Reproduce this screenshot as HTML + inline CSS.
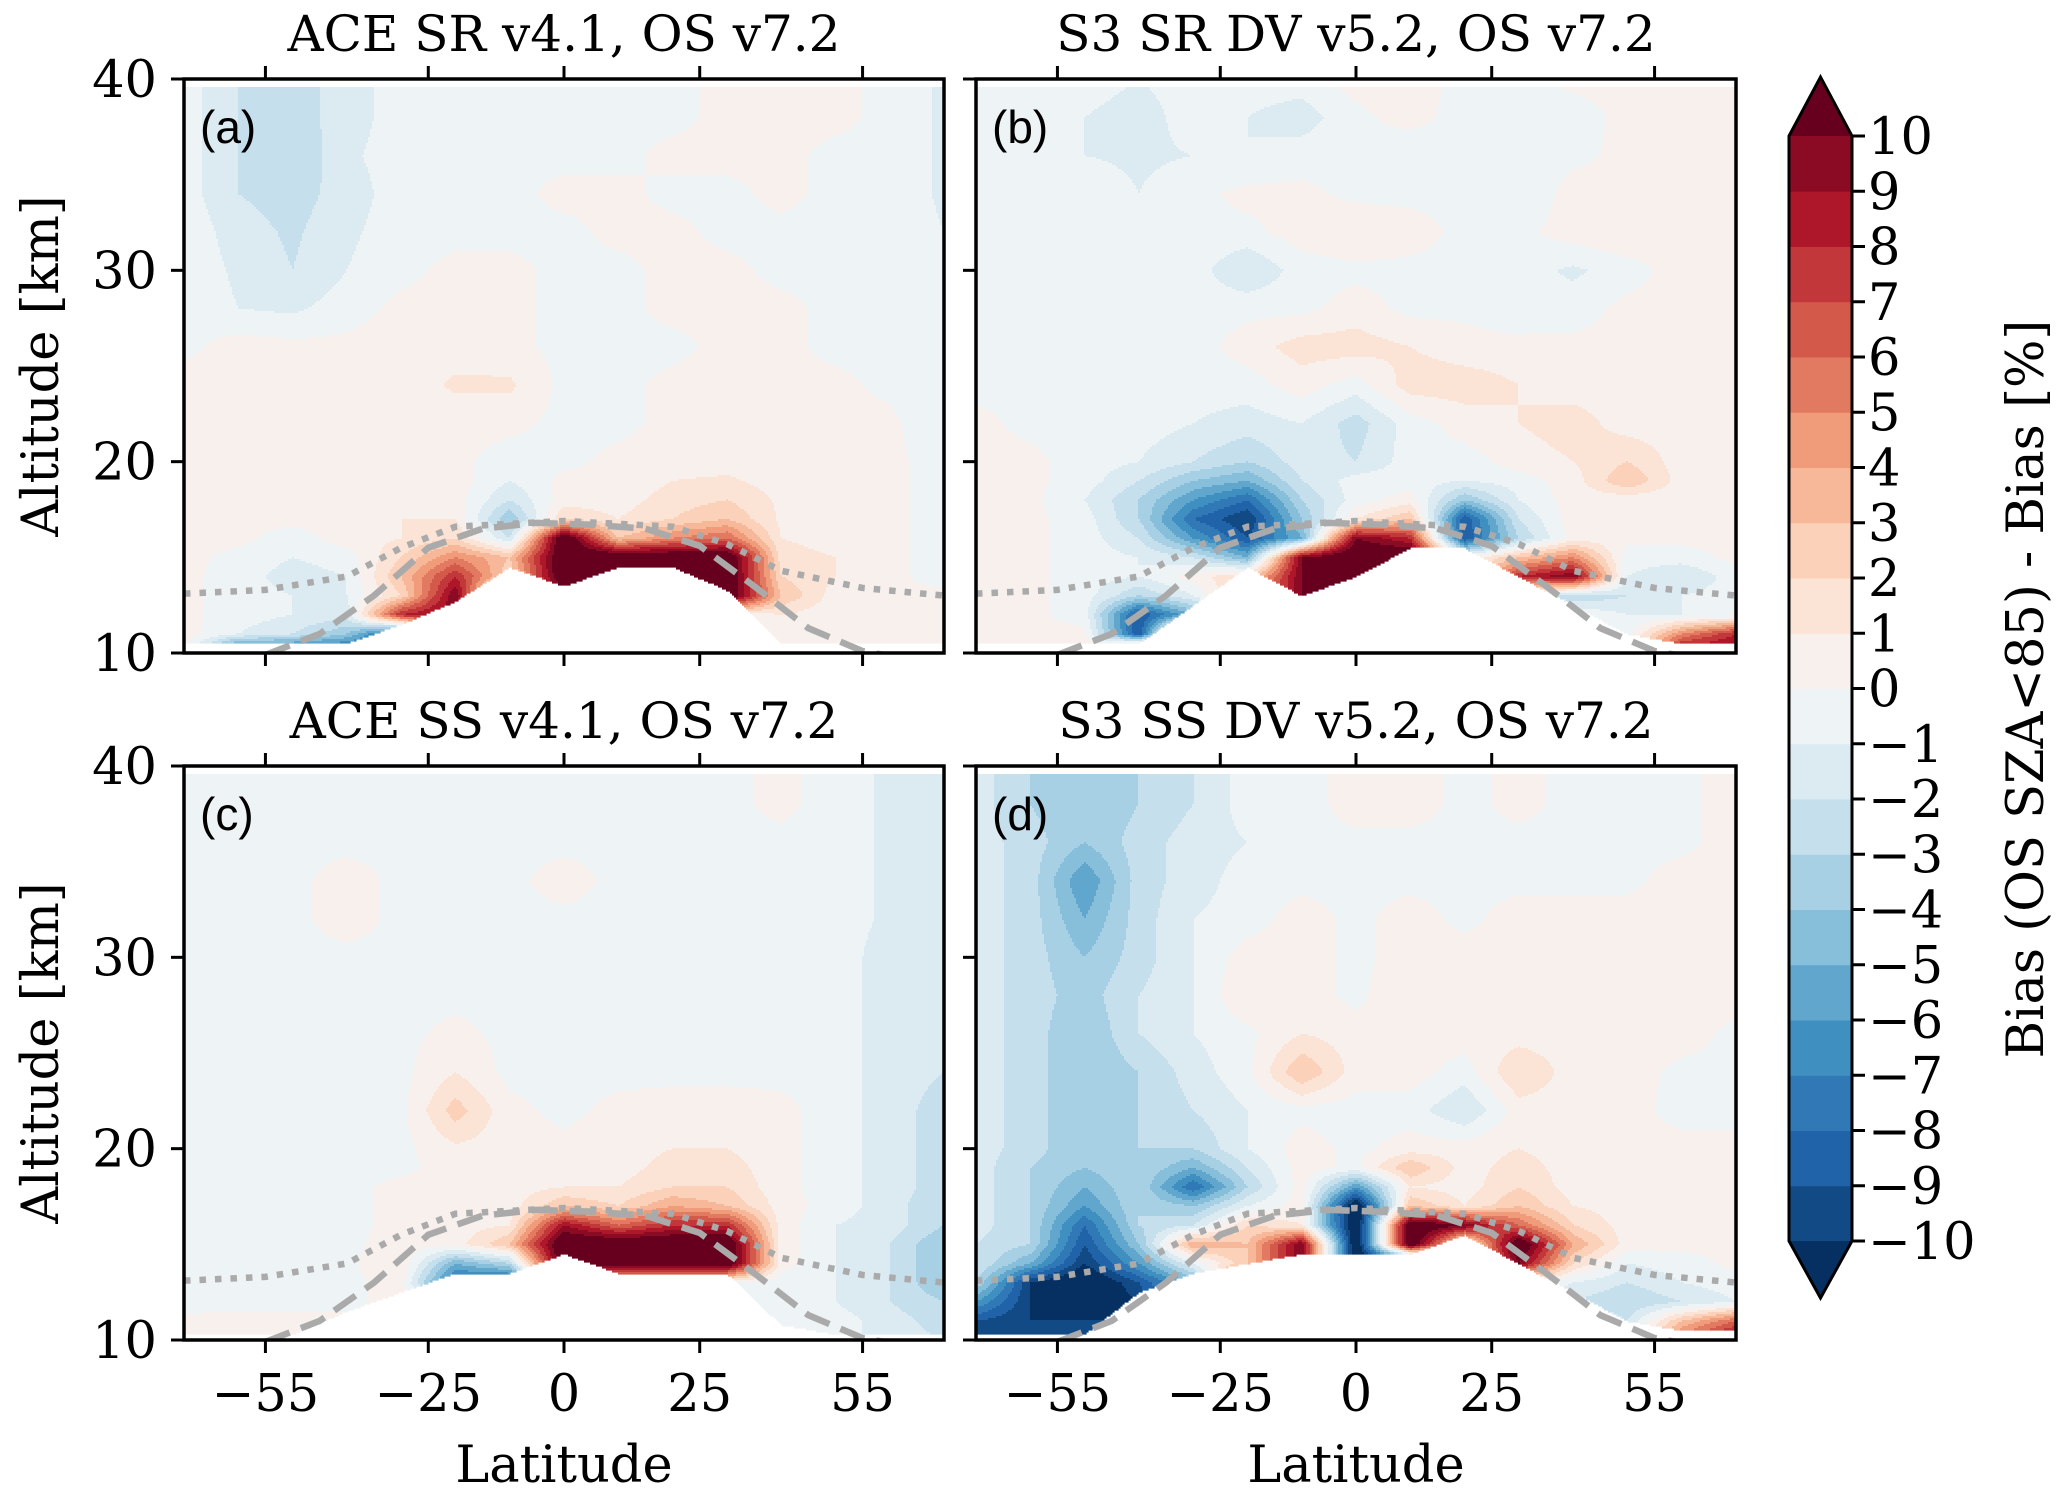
<!DOCTYPE html>
<html><head><meta charset="utf-8">
<style>
html,body{margin:0;padding:0;background:#fff}
svg text{font-family:"DejaVu Serif","Liberation Serif",serif;fill:#000}
</style></head>
<body>
<svg id="fig" xmlns="http://www.w3.org/2000/svg" width="2067" height="1494" viewBox="0 0 2067 1494">
<rect width="2067" height="1494" fill="#fff"/>
<g id="layer"></g>
</svg>
<script>
// ---- data ----
const lats = [-70,-60,-50,-40,-30,-20,-10,0,10,20,30,40,50,60,70];
const alts = [10,11,12,13,14,15,16,17,18,19,20,22,24,26,28,30,32,34,36,38,40];
const xTicks = [-55,-25,0,25,55];
const yTicks = [10,20,30,40];
const cbarLevels = [-10,-9,-8,-7,-6,-5,-4,-3,-2,-1,0,1,2,3,4,5,6,7,8,9,10];
const titles = ["ACE SR v4.1, OS v7.2","S3 SR DV v5.2, OS v7.2","ACE SS v4.1, OS v7.2","S3 SS DV v5.2, OS v7.2"];
const panelTags = ["(a)","(b)","(c)","(d)"];
const floorA = [10.5,10.5,10.5,10.5,11.5,12.7,14.5,13.5,14.5,14.5,13.3,10.5,10.5,10.5,10.5];
const floorB = [10.5,10.5,10.5,10.5,12.5,14.5,13,14,15.5,15.5,14,12.5,11,10.5,10.5];
const floorC = [10.3,10.3,10.3,11.5,12.5,13.5,13.5,14.5,13.5,13.5,13.5,10.8,10.3,10.3,10.3];
const floorD = [10.3,10.3,10.3,12.5,13.5,14,14.5,14.5,14.5,15.5,14,12.5,11,10.5,10.5];
const dotLats = [-70,-55,-40,-30,-20,0,20,30,40,55,70];
const dotAlts = [13.1,13.3,14,15.5,16.6,16.9,16.6,15.7,14.3,13.4,13.0];
const dashLats = [-55,-45,-35,-25,-15,-5,5,15,25,35,45,55,65,70];
const dashAlts = [9.9,11,13,15.5,16.5,16.8,16.7,16.5,15.6,13.5,11.3,10.1,9.6,9.5];
const biasA = [
[0.5,-9,-9,-9,-9,-9,-9,0,0,0,0,0,0.3,0.3,0.5],
[0.5,-1,-2,-4,-9,5,-9,0,0,0,0,0,0.3,0.3,0.5],
[0.3,-0.5,-1,-1.5,8,10,-9,0,0,0,0,1,0.3,0.3,0.5],
[0.3,-0.5,-1,-1,2,10,-5,10,12,12,12,3,0.5,0.3,0.3],
[0.3,-0.5,-1.5,-1,3,8,2,12,12,12,12,2,1,0.3,-0.5],
[0.3,-0.3,-1,-0.5,2,5,3,12,12,12,12,1.5,1,0.3,-0.5],
[0.3,0.3,-0.5,0.5,1,2,-2,12,3,5,6,1,0.5,0.3,-0.5],
[0.3,0.3,0.3,0.5,1,1,-4,2,1,2,3,0.8,0.5,0.3,-0.5],
[0.3,0.3,0.3,0.5,0.5,0.5,-2,0.5,0.5,1.5,2,0.8,0.5,0.3,-0.5],
[0.3,0.3,0.3,0.3,0.5,0.5,-1,0.3,0.3,1,1.2,0.5,0.5,0.3,-0.5],
[0.3,0.3,0.3,0.3,0.3,0.3,-0.5,-0.3,0.3,0.5,0.5,0.3,0.3,0.3,-0.5],
[0.5,0.5,0.5,0.5,0.3,0.3,0.3,-0.3,-0.3,0.3,0.3,0.3,0.5,0.3,-1],
[0.5,0.5,0.3,0.3,0.3,1.2,1.2,-0.3,-0.3,0.3,0.5,0.3,0.3,-0.3,-1],
[-0.3,0.5,0.3,0.3,0.5,0.5,0.3,-0.3,-0.3,-0.3,0.3,0.3,-0.3,-0.3,-1],
[-0.3,-1,-1.2,-0.5,0.3,0.3,0.3,-0.3,-0.3,0.3,0.3,0.3,-0.3,-0.3,-1],
[-0.3,-1.2,-2,-1,-0.3,0.3,0.3,-0.3,-0.3,0.3,0.3,-0.3,-0.3,-0.3,-1],
[-0.3,-1.5,-2.2,-1.2,-0.5,-0.3,-0.3,-0.3,0.3,0.3,-0.3,-0.3,-0.3,-0.3,-1],
[-0.5,-2,-2.5,-1.5,-0.5,-0.3,-0.3,0.3,0.3,-0.3,-0.3,0.3,-0.3,-0.3,-1.2],
[-0.5,-2,-3,-1.2,-0.5,-0.3,-0.3,-0.3,-0.3,0.3,0.3,0.3,-0.3,-0.3,-1.2],
[-0.5,-2,-2.5,-1.5,-0.5,-0.3,-0.5,-0.3,-0.3,-0.3,0.3,0.3,0.3,-0.3,-1.2],
[-0.5,-2,-2.5,-1.5,-0.5,-0.3,-0.5,-0.3,-0.3,-0.3,0.3,0.3,0.3,-0.3,-1.2]];
const biasB = [
[0.3,0.3,0.3,10,10,0,0,0,0,0,0,0,-0.5,10,10],
[0.3,0.3,0.3,-9,10,0,0,0,0,0,0,0,-0.5,5,8],
[0.3,0.3,-0.5,-9,-5,0,0,0,0,0,0,0,-1,-1,-0.5],
[0.3,0.3,-0.5,-3,-1,3,10,10,0,0,0,-3,-2,-1,-0.5],
[0.3,0.3,-0.5,-1,0.5,2,10,12,0,0,8,10,-1,-2,-0.5],
[0.3,0.3,-0.5,-1,-2,-5,10,12,12,0,3,5,-0.5,-0.5,0.3],
[0.3,0.3,-0.5,-2,-6,-9,-5,10,8,-9,-3,0.5,0.3,0.3,0.3],
[0.3,0.3,-0.5,-3,-8,-10,-4,1,3,-9,-2,0.5,0.3,0.3,0.3],
[0.3,0.3,-1,-3,-6,-8,-3,-0.5,0.5,-4,-1,0.5,0.3,0.3,0.3],
[0.3,0.3,-0.5,-2,-4,-5,-2,-0.5,-0.5,-1,-0.5,0.5,3,0.5,0.3],
[0.3,0.3,-0.5,-1,-2,-3,-1.5,-2,-0.5,-0.5,0.5,1,2,0.5,0.3],
[0.3,-0.3,-0.5,-0.5,-1,-1.5,-1,-2.5,-0.5,0.5,1,1.5,0.5,0.5,0.3],
[-0.3,-0.3,-0.3,-0.5,-0.5,-0.5,0.5,-0.5,1.5,1.5,1,0.5,0.5,0.5,0.3],
[-0.3,-0.3,-0.3,-1,-0.5,0.5,1.5,1.5,1,0.5,0.5,0.3,0.3,0.5,0.5],
[-0.3,-0.3,-0.3,-0.3,-0.5,-0.3,-0.3,0.5,-0.3,-0.3,-1,-0.5,0.3,0.5,0.5],
[-0.3,-0.3,-0.3,-0.3,-0.5,-2,-0.5,-0.3,-0.3,-0.3,-0.5,-1.2,-0.5,0.5,0.5],
[-0.3,-0.3,-0.3,-0.3,-0.3,-0.3,0.5,1,0.5,-0.3,-0.3,0.5,1,0.5,0.5],
[-0.3,-0.3,-0.3,-1,-0.3,0.3,0.3,-0.3,-0.3,-0.3,-1,0.5,0.3,0.5,0.5],
[-0.3,-0.3,-1,-1.2,-1,-1,-0.5,-0.3,-1,-0.5,-1,-0.3,0.3,0.3,0.5],
[-0.3,-0.3,-1,-1.5,-0.5,-1,-1.5,-0.3,0.5,-0.5,-1,-0.5,0.3,0.3,0.5],
[-0.3,-0.3,-0.5,-1,-0.5,-0.5,-0.5,0.5,0.5,-0.3,-0.3,0.3,0.3,0.3,0.3]];
const biasC = [
[0.3,0.5,0.5,0.3,0,0,0,0,0,0,0,-0.5,-0.5,-1.5,-2],
[0.3,0.3,0.3,0.3,0,0,0,0,0,0,0,-0.5,-0.5,-1.5,-2.5],
[-0.5,-0.3,-0.3,-0.3,0.5,0,0,0,0,0,0,-0.5,-1,-2,-3],
[-0.5,-0.3,-0.3,-0.3,0.5,-8,-9,0,0,0,0,-0.5,-1,-2,-4],
[-0.5,-0.3,-0.3,-0.3,1,-5,-3,12,12,12,12,0.5,-1,-2,-4],
[-0.5,-0.3,-0.3,-0.3,0.5,0.5,3,12,12,12,12,0.5,-1,-2,-4],
[-0.5,-0.3,-0.3,-0.3,0.3,0.5,1,9,6,8,8,0.5,-1,-1.5,-3],
[-0.5,-0.3,-0.3,-0.3,0.3,0.5,0.5,3,2,4,3,0.5,-0.5,-1.5,-3],
[-0.5,-0.3,-0.3,-0.3,0.3,0.5,0.5,1,1,2,2,0.3,-0.5,-1.5,-2.5],
[-0.5,-0.3,-0.3,-0.3,-0.3,0.5,0.5,0.5,0.5,1.5,1.5,0.3,-0.5,-1.5,-2.5],
[-0.5,-0.3,-0.3,-0.3,-0.3,0.8,0.5,0.3,0.5,1,1,0.3,-0.5,-1.5,-2.5],
[-0.5,-0.3,-0.3,-0.3,-0.3,2.5,0.3,-0.3,0.3,0.5,0.5,0.3,-0.5,-1.5,-2.5],
[-0.5,-0.3,-0.3,-0.3,-0.3,1,-0.3,-0.3,-0.3,-0.3,-0.3,-0.3,-0.5,-1.5,-2],
[-1,-0.3,-0.3,-0.3,-0.3,0.3,-0.3,-0.3,-0.3,-0.3,-0.3,-0.3,-0.5,-1.5,-2],
[-1,-0.3,-0.3,-0.3,-0.3,-0.3,-0.3,-0.3,-0.3,-0.3,-0.3,-0.3,-0.5,-1.5,-2],
[-1,-0.3,-0.3,-0.3,-0.3,-0.3,-0.3,-0.3,-0.3,-0.3,-0.3,-0.3,-0.5,-1.5,-2],
[-1,-0.3,-0.3,0.5,-0.3,-0.3,-0.3,-0.3,-0.3,-0.3,-0.3,-0.3,-0.5,-1.2,-1.5],
[-1,-0.3,-0.3,0.5,-0.3,-0.3,-0.3,0.5,-0.3,-0.3,-0.3,-0.3,-0.5,-1.2,-1.5],
[-1,-0.3,-0.3,-0.3,-0.3,-0.3,-0.3,-0.3,-0.3,-0.3,-0.3,-0.3,-0.5,-1.2,-1.5],
[-0.5,-0.3,-0.3,-0.3,-0.3,-0.3,-0.3,-0.3,-0.3,-0.3,-0.3,0.3,-0.5,-1.2,-1.5],
[-0.5,-0.3,-0.3,-0.3,-0.3,-0.3,-0.3,-0.3,-0.3,-0.3,-0.3,0.3,-0.5,-1.2,-1.5]];
const biasD = [
[-9,-10,-10,-10,0,0,0,0,0,0,0,0,-1,6,10],
[-9,-10,-10,-10,0,0,0,0,0,0,0,0,-2,3,6],
[-6,-10,-12,-10,-3,0,0,0,0,0,0,-2,-3,-2,-1],
[-3,-10,-12,-9,-5,10,0,0,0,0,0,-1,-2,-1,-0.5],
[-2,-5,-10,-6,-1,3,10,-12,-12,0,10,2,-1,-0.5,0.3],
[-2,-3,-9,-4,4,3,10,-12,12,0,12,4,0.5,0.3,0.3],
[-1.5,-3,-8,-3,-2,2,1,-12,12,10,6,2,0.5,0.3,0.3],
[-1.5,-3,-6,-3,-4,-1,0.5,-12,3,1,3,1,0.5,0.3,0.3],
[-1.5,-3,-5,-3,-8,-3,0.5,-6,1,0.5,2,0.5,0.5,0.3,0.3],
[-1.5,-3,-4,-3,-5,-2,0.5,-0.3,3,0.5,1.5,0.5,0.5,0.3,0.3],
[-1.5,-2.5,-4,-3,-3,-1,0.5,-0.3,0.5,0.5,1,0.5,0.3,0.3,0.3],
[-1.5,-2.5,-4,-3,-2,-1,-0.3,-0.5,-0.5,-2,0.5,0.5,0.3,-0.3,-0.3],
[-1.5,-2.5,-4,-3,-1.5,-0.3,3,0.5,0.5,-0.5,2,0.5,0.5,-0.3,-0.3],
[-1.5,-2.5,-4,-2,-1,-0.3,1,0.5,0.5,0.5,0.5,0.5,0.5,0.5,-0.3],
[-1.5,-2.5,-3.5,-2,-1,1,0.5,-0.3,1,0.5,1,0.5,0.5,0.5,0.5],
[-1.5,-2.5,-4,-2.5,-1,0.5,0.5,-0.3,0.5,0.5,0.5,0.5,0.5,0.5,0.5],
[-1.5,-2.5,-5,-2.5,-1,-0.5,0.5,-0.3,0.5,-0.3,0.5,0.5,0.5,0.5,0.5],
[-1.5,-2.5,-6,-2.5,-1.5,-0.5,-0.3,-0.3,-0.3,-0.3,-0.3,-0.3,-0.3,0.5,0.5],
[-1.5,-2.5,-4,-2.5,-1.5,-1,-0.3,-0.3,-0.3,-0.3,-0.3,-0.3,-0.3,-0.3,0.5],
[-1.5,-3,-4,-3,-2,-0.5,-0.5,0.5,0.5,-0.3,0.3,-0.3,-0.3,-0.3,0.5],
[-1.5,-3,-4,-3,-2,-0.5,-0.5,0.5,0.5,-0.3,0.3,-0.3,-0.3,-0.3,0.5]];

// ---- rendering ----
const NS = "http://www.w3.org/2000/svg";
const layer = document.getElementById('layer');
function mk(tag, attrs, parent){const e=document.createElementNS(NS,tag);for(const k in attrs)e.setAttribute(k,attrs[k]);(parent||layer).appendChild(e);return e;}
const anchors = ['#053061','#2166ac','#4393c3','#92c5de','#d1e5f0','#f7f7f7','#fddbc7','#f4a582','#d6604d','#b2182b','#67001f'];
function hex(h){return [1,3,5].map(i=>parseInt(h.substr(i,2),16));}
function cmap(t){const p=t*10,i=Math.min(9,Math.floor(p)),f=p-i;const a=hex(anchors[i]),b=hex(anchors[i+1]);return 'rgb('+a.map((v,k)=>Math.round(v+(b[k]-v)*f)).join(',')+')';}
const binColors=[];for(let b=0;b<20;b++)binColors.push(cmap((b+1)/21));
function colorOf(v){if(v>=10)return anchors[10];if(v<-10)return anchors[0];return binColors[Math.min(19,Math.floor(v)+10)];}
function interp1(xs,ys,x){if(x<=xs[0])return ys[0];for(let i=0;i<xs.length-1;i++){if(x<=xs[i+1]){const f=(x-xs[i])/(xs[i+1]-xs[i]);return ys[i]+(ys[i+1]-ys[i])*f;}}return ys[ys.length-1];}
function idx(xs,x){let i=0;while(i<xs.length-2&&x>xs[i+1])i++;const f=Math.max(0,Math.min(1,(x-xs[i])/(xs[i+1]-xs[i])));return [i,f];}
function bilinear(g,lat,alt){const [i,fx]=idx(lats,lat),[j,fy]=idx(alts,alt);const a=g[j][i],b=g[j][i+1],c=g[j+1][i],d=g[j+1][i+1];return a*(1-fx)*(1-fy)+b*fx*(1-fy)+c*(1-fx)*fy+d*fx*fy;}

const panels=[
 {x0:184,x1:944,y0:79,y1:653,grid:biasA,floor:floorA,name:'panel-a',left:true,bottom:false},
 {x0:976,x1:1736,y0:79,y1:653,grid:biasB,floor:floorB,name:'panel-b',left:false,bottom:false},
 {x0:184,x1:944,y0:766,y1:1340,grid:biasC,floor:floorC,name:'panel-c',left:true,bottom:true},
 {x0:976,x1:1736,y0:766,y1:1340,grid:biasD,floor:floorD,name:'panel-d',left:false,bottom:true}];
const minus=s=>String(s).replace('-','\u2212');

panels.forEach((P,pi)=>{
 const sx=lat=>P.x0+(lat+70)/140*(P.x1-P.x0);
 const sy=alt=>P.y1-(alt-10)/30*(P.y1-P.y0);
 const ilat=x=>(x-P.x0)/(P.x1-P.x0)*140-70;
 const ialt=y=>10+(P.y1-y)/(P.y1-P.y0)*30;
 const g=mk('g',{});
 
 
 const step=2;
 for(let y=P.y0;y<P.y1;y+=step){
  const alt=ialt(y+step/2);
  if(alt>39.6)continue;
  let runStart=null,runCol=null;
  const flush=(xe)=>{if(runCol){mk('rect',{x:runStart,y:y,width:xe-runStart+0.6,height:step+0.6,fill:runCol},g);}};
  for(let x=P.x0;x<P.x1;x+=step){
   const lat=ilat(x+step/2);
   const fl=interp1(lats,P.floor,lat);
   const c= alt<fl?null:colorOf(bilinear(P.grid,lat,alt));
   if(c!==runCol){flush(x);runStart=x;runCol=c;}
  }
  flush(P.x1);
 }
 const clip='clip'+pi;
 const cp=mk('clipPath',{id:clip});mk('rect',{x:P.x0,y:P.y0,width:P.x1-P.x0,height:P.y1-P.y0},cp);
 const dot=mk('polyline',{points:dotLats.map((l,i)=>sx(l)+','+sy(dotAlts[i])).join(' '),fill:'none',stroke:'#aaaaaa','stroke-width':6.5,'stroke-dasharray':'6.5 9','clip-path':'url(#'+clip+')'});
 
 
 const dash=mk('polyline',{points:dashLats.map((l,i)=>sx(l)+','+sy(dashAlts[i])).join(' '),fill:'none',stroke:'#aaaaaa','stroke-width':6.5,'stroke-dasharray':'26 12','clip-path':'url(#'+clip+')'});
 
 
 const fr=mk('rect',{x:P.x0,y:P.y0,width:P.x1-P.x0,height:P.y1-P.y0,fill:'none',stroke:'#000','stroke-width':3.5});
 
 
 xTicks.forEach(t=>{
  mk('line',{x1:sx(t),x2:sx(t),y1:P.y1,y2:P.y1+13,stroke:'#000','stroke-width':3});
  mk('line',{x1:sx(t),x2:sx(t),y1:P.y0,y2:P.y0-13,stroke:'#000','stroke-width':3});
  if(P.bottom){const tl=mk('text',{x:sx(t),y:1411,'font-size':51,'text-anchor':'middle'});tl.textContent=minus(t);
   
   }
 });
 yTicks.forEach(t=>{
  mk('line',{x1:P.x0,x2:P.x0-13,y1:sy(t),y2:sy(t),stroke:'#000','stroke-width':3});
  if(P.left){const tl=mk('text',{x:157,y:sy(t)+18,'font-size':51,'text-anchor':'end'});tl.textContent=t;
   
   }
 });
 const ti=mk('text',{x:(P.x0+P.x1)/2,y:P.y0-28,'font-size':50,'text-anchor':'middle'});ti.textContent=titles[pi];
 
 
 const tg=mk('text',{x:P.x0+16,y:P.y0+64,'font-size':46,style:'font-family:"Liberation Sans",sans-serif'});tg.textContent=panelTags[pi];
 
 
 if(P.left){const yl=mk('text',{x:0,y:0,'font-size':51,'text-anchor':'middle',transform:'translate(58,'+((P.y0+P.y1)/2)+') rotate(-90)'});yl.textContent='Altitude [km]';
  
  }
 if(P.bottom){const xl=mk('text',{x:(P.x0+P.x1)/2,y:1482,'font-size':51,'text-anchor':'middle'});xl.textContent='Latitude';
  
  }
});

// colorbar
const cb={x0:1789,x1:1852,y0:136,y1:1241,tipTop:77,tipBot:1298};
const cy=v=>cb.y1-(v+10)/20*(cb.y1-cb.y0);
const cbg=mk('g',{});


for(let b=0;b<20;b++){mk('rect',{x:cb.x0,y:cy(cbarLevels[b+1]),width:cb.x1-cb.x0,height:cy(cbarLevels[b])-cy(cbarLevels[b+1])+0.5,fill:binColors[b]},cbg);}
mk('polygon',{points:`${cb.x0},${cb.y0} ${cb.x1},${cb.y0} ${(cb.x0+cb.x1)/2},${cb.tipTop}`,fill:anchors[10]},cbg);
mk('polygon',{points:`${cb.x0},${cb.y1} ${cb.x1},${cb.y1} ${(cb.x0+cb.x1)/2},${cb.tipBot}`,fill:anchors[0]},cbg);
mk('polygon',{points:`${cb.x0},${cb.y0} ${(cb.x0+cb.x1)/2},${cb.tipTop} ${cb.x1},${cb.y0} ${cb.x1},${cb.y1} ${(cb.x0+cb.x1)/2},${cb.tipBot} ${cb.x0},${cb.y1}`,fill:'none',stroke:'#000','stroke-width':3},cbg);
cbarLevels.forEach(v=>{
 mk('line',{x1:cb.x1,x2:cb.x1+13,y1:cy(v),y2:cy(v),stroke:'#000','stroke-width':3},cbg);
 const t=mk('text',{x:1868,y:cy(v)+18,'font-size':51},cbg);t.textContent=minus(v);
 
 
});
const cl=mk('text',{x:0,y:0,'font-size':51,'text-anchor':'middle',transform:'translate(2043,689) rotate(-90)'});
cl.textContent='Bias (OS SZA<85) - Bias [%]';


</script>
</body></html>
